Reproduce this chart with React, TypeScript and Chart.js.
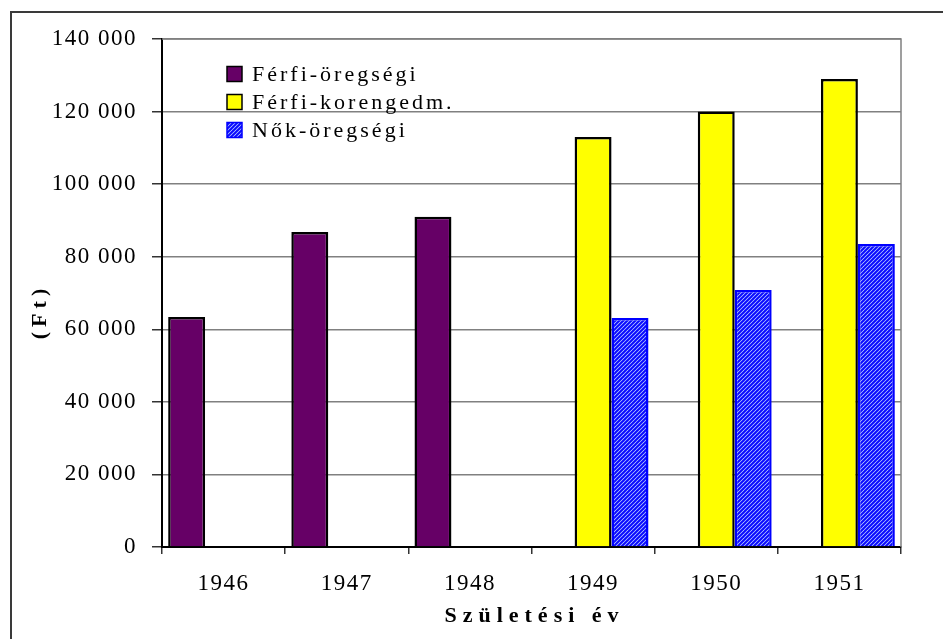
import React, { useEffect, useRef } from "react";
import { Chart, registerables } from "chart.js";

Chart.register(...registerables);

// ---- data ----
const categories = ["1946", "1947", "1948", "1949", "1950", "1951"];
const ferfiOregsegi = [63400, 86800, 91000, null, null, null];
const ferfiKorengedm = [null, null, null, 113000, 120000, 129000];
const nokOregsegi = [null, null, null, 63100, 70800, 83500];
const seriesLabels = ["Férfi-öregségi", "Férfi-korengedm.", "Nők-öregségi"];
const yMin = 0;
const yMax = 140000;
const yStep = 20000;
const xTitle = "Születési év";
const yTitle = "(Ft)";

const SERIF = "'Liberation Serif', 'Times New Roman', serif";

function makeStripePattern(): CanvasPattern | string {
  const c = document.createElement("canvas");
  c.width = 4;
  c.height = 4;
  const g = c.getContext("2d");
  if (!g) return "#4060ff";
  g.fillStyle = "#b8ccff";
  g.fillRect(0, 0, 4, 4);
  g.strokeStyle = "#0a0aff";
  g.lineWidth = 2;
  for (const k of [0, 4, 8]) {
    g.beginPath();
    g.moveTo(k + 2, -2);
    g.lineTo(-2, k + 2);
    g.stroke();
  }
  const p = g.createPattern(c, "repeat");
  return p || "#4060ff";
}

function fmt(v: number): string {
  return String(v).replace(/\B(?=(\d{3})+(?!\d))/g, " ");
}

const decorPlugin = {
  id: "decor",
  beforeDraw(chart: any) {
    const ctx = chart.ctx;
    ctx.letterSpacing = "1.5px";
  },
  afterDraw(chart: any) {
    const ctx = chart.ctx;
    const ca = chart.chartArea;
    ctx.save();
    // plot frame (top/right)
    ctx.strokeStyle = "#808080";
    ctx.lineWidth = 1.5;
    ctx.beginPath();
    ctx.moveTo(ca.left, ca.top);
    ctx.lineTo(ca.right, ca.top);
    ctx.lineTo(ca.right, ca.bottom);
    ctx.stroke();

    // outer frame
    ctx.strokeStyle = "#3a3a3a";
    ctx.lineWidth = 2;
    ctx.beginPath();
    ctx.moveTo(11, chart.height + 2);
    ctx.lineTo(11, 12);
    ctx.lineTo(chart.width + 2, 12);
    ctx.stroke();

    // legend
    const ds = chart.data.datasets;
    ctx.textBaseline = "middle";
    ctx.textAlign = "left";
    ctx.font = `22px ${SERIF}`;
    (ctx as any).letterSpacing = "3px";
    const lx = 227;
    const rows = [74, 102, 130];
    ds.forEach((d: any, i: number) => {
      const y = rows[i];
      ctx.fillStyle = d.backgroundColor;
      ctx.fillRect(lx, y - 7.5, 15, 15);
      ctx.strokeStyle = d.borderColor;
      ctx.lineWidth = 1.5;
      ctx.strokeRect(lx, y - 7.5, 15, 15);
      ctx.fillStyle = "#000";
      ctx.fillText(d.label, lx + 25, y + 1);
    });

    // axis titles
    ctx.font = `bold 22px ${SERIF}`;
    (ctx as any).letterSpacing = "6px";
    ctx.textAlign = "center";
    ctx.fillText(xTitle, (ca.left + ca.right) / 2 + 3, 616);

    ctx.translate(40, 314);
    ctx.rotate(-Math.PI / 2);
    (ctx as any).letterSpacing = "5px";
    ctx.fillText(yTitle, 2.5, 0);
    ctx.restore();
  },
};

export default function App() {
  const ref = useRef<HTMLCanvasElement | null>(null);

  useEffect(() => {
    if (!ref.current) return;
    const stripes = makeStripePattern();
    const chart = new Chart(ref.current, {
      type: "bar",
      data: {
        labels: categories,
        datasets: [
          {
            label: seriesLabels[0],
            data: ferfiOregsegi,
            backgroundColor: "#660066",
            borderColor: "#000000",
            borderWidth: 2.5,
          },
          {
            label: seriesLabels[1],
            data: ferfiKorengedm,
            backgroundColor: "#ffff00",
            borderColor: "#000000",
            borderWidth: 2.5,
          },
          {
            label: seriesLabels[2],
            data: nokOregsegi,
            backgroundColor: stripes as any,
            borderColor: "#0000ff",
            borderWidth: 2.5,
          },
        ],
      },
      options: {
        responsive: false,
        animation: false,
        devicePixelRatio: 1,
        layout: { padding: { left: 0, top: 39, right: 42, bottom: 0 } },
        datasets: {
          bar: { categoryPercentage: 0.9, barPercentage: 1 },
        },
        plugins: {
          legend: { display: false },
          tooltip: { enabled: false },
          title: { display: false },
        },
        scales: {
          x: {
            offset: true,
            grid: {
              offset: true,
              drawOnChartArea: false,
              drawTicks: true,
              tickLength: 7,
              tickColor: "#333",
              lineWidth: 1.5,
            },
            border: { color: "#000", width: 2 },
            ticks: {
              color: "#000",
              font: { family: SERIF, size: 23 },
              padding: 16,
              maxRotation: 0,
            },
            afterFit(scale: any) {
              scale.height = 92;
            },
          },
          y: {
            min: yMin,
            max: yMax,
            grid: {
              color: "#808080",
              lineWidth: 1.5,
              drawTicks: true,
              tickLength: 10,
              tickColor: "#333",
            },
            border: { color: "#000", width: 2 },
            ticks: {
              stepSize: yStep,
              color: "#000",
              font: { family: SERIF, size: 23 },
              padding: 15,
              callback: (v: any) => fmt(Number(v)),
            },
            afterFit(scale: any) {
              scale.width = 162;
            },
          },
        },
      },
      plugins: [decorPlugin],
    });
    return () => chart.destroy();
  }, []);

  return (
    <div style={{ position: "absolute", left: 0, top: 0, width: 943, height: 639, background: "#fff" }}>
      <canvas ref={ref} width={943} height={639} style={{ display: "block" }} />
    </div>
  );
}
